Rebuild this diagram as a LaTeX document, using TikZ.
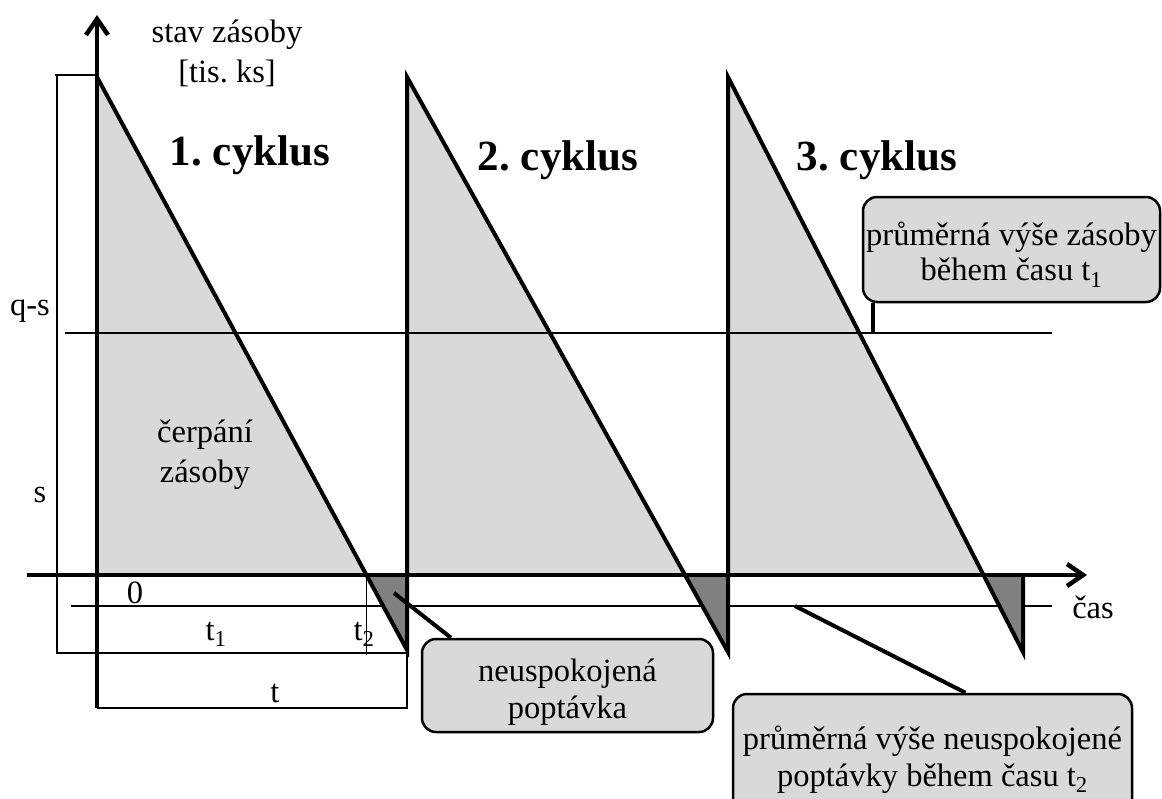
\documentclass[tikz,border=0pt]{standalone}
\usepackage{fontspec}
\setmainfont{Liberation Serif}
\usetikzlibrary{arrows.meta,calc}
\definecolor{lightfill}{HTML}{D9D9D9}
\definecolor{darkfill}{HTML}{808080}
\begin{document}
\frenchspacing
\begin{tikzpicture}[x=1pt,y=-1pt,
  every node/.style={inner sep=0pt, font=\fontsize{32.5}{40}\selectfont},
  thinline/.style={line width=1.5pt},
  thickline/.style={line width=4.5pt},
  sawline/.style={line width=4pt},
  leader/.style={line width=4pt},
  callout/.style={draw=black, line width=2.5pt, fill=lightfill, rounded corners=14pt, align=center, font=\fontsize{32.5}{37}\selectfont},
  cyc/.style={font=\bfseries\fontsize{43}{50}\selectfont, anchor=base},
  lbl/.style={anchor=base},
  axisarrow/.style={-{Straight Barb[length=16pt,width=22pt]}}
]
\useasboundingbox (0,0) rectangle (1162,798);

% main coordinates
\coordinate (o) at (97,575);
\coordinate (ytop) at (97,15);
\coordinate (ybot) at (97,708);
\coordinate (xl) at (27,575);
\coordinate (xr) at (1087,575);
\coordinate (c1t) at (97,77);
\coordinate (c1b) at (407,650);
\coordinate (c2t) at (407,77);
\coordinate (c2b) at (728,652);
\coordinate (c3t) at (728,77);
\coordinate (c3b) at (1023,652);
\coordinate (r1) at (407,575);
\coordinate (r2) at (728,575);
\coordinate (r3) at (1023,575);
\coordinate (x1) at (intersection of c1t--c1b and xl--xr);
\coordinate (x2) at (intersection of c2t--c2b and xl--xr);
\coordinate (x3) at (intersection of c3t--c3b and xl--xr);

% light fills
\fill[lightfill] (c1t) -- (o) -- (x1) -- cycle;
\fill[lightfill] (c2t) -- (r1) -- (x2) -- cycle;
\fill[lightfill] (c3t) -- (r2) -- (x3) -- cycle;

% thin lines
\coordinate (qtl) at (55,75);
\coordinate (dl) at (57,75);
\coordinate (dlb) at (57,653);
\coordinate (dlr) at (407,653);
\coordinate (qsl) at (65,333);
\coordinate (qsr) at (1052,333);
\coordinate (cal) at (71,606);
\coordinate (car) at (1052,606);
\coordinate (tb1) at (97,708);
\coordinate (tb2) at (407,708);
\coordinate (tb3) at (407,650);
\draw[thinline] (qtl) -- (o |- qtl);
\draw[thinline] (dl) -- (dlb) -- (dlr);
\draw[thinline] (qsl) -- (qsr);
\draw[thinline] (cal) -- (car);
\draw[thinline] ($(x1)+(0,3)$) -- ($(x1)+(0,80)$);
\draw[thinline] (tb1) -- (tb2) -- (tb3);

% dark fills
\fill[darkfill] (x1) -- (r1) -- (c1b) -- cycle;
\fill[darkfill] (x2) -- (r2) -- (c2b) -- cycle;
\fill[darkfill] (x3) -- (r3) -- (c3b) -- cycle;

% thick lines
\draw[thickline, axisarrow] (ybot) -- (ytop);
\draw[thickline, axisarrow] (xl) -- (xr);
\draw[sawline] (c1t) -- (c1b) -- (c2t) -- (c2b) -- (c3t) -- (c3b) -- (r3);

% labels
\node[align=center] (ylab) at (227,53) {stav zásoby\\{[tis. ks]}};
\node[cyc] (cy1) at (250,165) {1. cyklus};
\node[cyc] (cy2) at (558,170) {2. cyklus};
\node[cyc] (cy3) at (877,170) {3. cyklus};
\node[align=center] (cerp) at (205,455) {čerpání\\zásoby};
\node[lbl] (lqs) at (30,315) {q-s};
\node[lbl] (ls) at (40,502) {s};
\node[lbl] (l0) at (135,603) {0};
\node[lbl] (lt1) at (216,640) {t\textsubscript{1}};
\node[lbl] (lt2) at (364,640) {t\textsubscript{2}};
\node[lbl] (lt) at (275,702) {t};
\node[lbl] (lcas) at (1093,618) {čas};

% callouts
\node[callout, minimum width=291pt, minimum height=93pt] (b1) at (567.5,685.5) {\rule{0pt}{36pt}neuspokojená\\poptávka};
\node[callout, minimum width=399pt, minimum height=124pt] (b2) at (932.5,756) {\rule{0pt}{30pt}průměrná výše neuspokojené\\poptávky během času t\textsubscript{2}};
\node[callout, minimum width=297pt, minimum height=105pt, font=\fontsize{32.5}{35}\selectfont] (b3) at (1011.5,249.5) {\rule{0pt}{34pt}průměrná výše zásoby\\během času t\textsubscript{1}};

% leader lines
\coordinate (l1a) at (394,593);
\coordinate (l2a) at (795,606);
\coordinate (l3a) at (873,333);
\draw[leader] (l1a) -- ($(b1.north west)!0.103!(b1.north east)$);
\draw[leader] (l2a) -- ($(b2.north west)!0.582!(b2.north east)$);
\draw[leader] (l3a) -- (l3a |- b3.south);
\end{tikzpicture}
\end{document}
